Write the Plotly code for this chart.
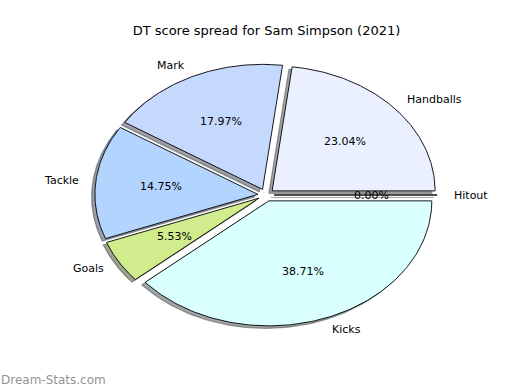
import numpy as np
import plotly.graph_objects as go

# ---- data ----
labels = ["Hitout", "Handballs", "Mark", "Tackle", "Goals", "Kicks"]
values = [0.00, 23.04, 17.97, 14.75, 5.53, 38.71]
colors = ["#ffffff", "#eaf0ff", "#c5d9ff", "#b3d4ff", "#d0ec8c", "#d9ffff"]
explode = [0.05, 0.05, 0.05, 0.05, 0.05, 0.05]
title_text = "DT score spread for Sam Simpson (2021)"
watermark = "Dream-Stats.com"

# ---- geometry (matplotlib-like pie: counterclockwise from 3 o'clock) ----
FONT = "DejaVu Sans"
labeldistance = 1.1
pctdistance = 0.6
shadow_off = (-0.02, -0.02)

def rgb(h):
    h = h.lstrip("#")
    return [int(h[i:i + 2], 16) for i in (0, 2, 4)]

total = float(sum(values))
fracs = np.array(values) / total
starts = np.concatenate([[0.0], np.cumsum(fracs)[:-1]]) * 360.0
ends = np.cumsum(fracs) * 360.0

fig = go.Figure()
annotations = []

wedges = []
for lab, f, t1, t2, col, ex in zip(labels, fracs, starts, ends, colors, explode):
    tm = np.deg2rad((t1 + t2) / 2.0)
    cx, cy = ex * np.cos(tm), ex * np.sin(tm)
    th = np.deg2rad(np.linspace(t1, t2, 120))
    xs = np.concatenate([[cx], cx + np.cos(th), [cx]])
    ys = np.concatenate([[cy], cy + np.sin(th), [cy]])
    wedges.append((lab, f, tm, cx, cy, xs, ys, col))

# shadows first (below all wedges)
for lab, f, tm, cx, cy, xs, ys, col in wedges:
    r, g, b = rgb(col)
    sc = "rgba(%d,%d,%d,0.5)" % (0.3 * r, 0.3 * g, 0.3 * b)
    fig.add_trace(go.Scatter(
        x=xs + shadow_off[0], y=ys + shadow_off[1], mode="lines",
        fill="toself", fillcolor=sc, line=dict(color=sc, width=1.2),
        hoverinfo="skip", showlegend=False))

for lab, f, tm, cx, cy, xs, ys, col in wedges:
    fig.add_trace(go.Scatter(
        x=xs, y=ys, mode="lines", fill="toself", fillcolor=col,
        line=dict(color="#000000", width=0.9), name=lab,
        hoverinfo="skip", showlegend=False))
    # outer label
    xt = cx + labeldistance * np.cos(tm)
    yt = cy + labeldistance * np.sin(tm)
    annotations.append(dict(
        x=xt, y=yt, xref="x", yref="y", text=lab, showarrow=False,
        xanchor="left" if xt > 0 else "right", yanchor="middle",
        font=dict(family=FONT, size=11, color="#000000"), borderpad=0))
    # percentage label
    xp = cx + pctdistance * np.cos(tm)
    yp = cy + pctdistance * np.sin(tm)
    annotations.append(dict(
        x=xp, y=yp, xref="x", yref="y", text="%.2f%%" % (f * 100),
        showarrow=False, xanchor="center", yanchor="middle",
        font=dict(family=FONT, size=11, color="#000000"), borderpad=0))

annotations.append(dict(
    x=0.0, y=(390 - 380) / 390.0, xref="paper", yref="paper", text=watermark,
    showarrow=False, xanchor="left", yanchor="middle",
    font=dict(family=FONT, size=12, color="rgba(125,125,125,0.85)"), borderpad=0))

W, H = 520, 390
CXP, CYP, RXP, RYP = 266.0, 195.0, 163.0, 125.0

fig.update_layout(
    width=W, height=H,
    margin=dict(l=0, r=0, t=0, b=0),
    paper_bgcolor="white", plot_bgcolor="white",
    title=dict(text=title_text, x=266.5 / W, y=1 - 30.0 / H,
               xanchor="center", yanchor="middle", xref="paper", yref="paper",
               font=dict(family=FONT, size=13, color="#000000")),
    xaxis=dict(range=[(0 - CXP) / RXP, (W - CXP) / RXP], visible=False,
               showgrid=False, zeroline=False, fixedrange=True),
    yaxis=dict(range=[(CYP - H) / RYP, CYP / RYP], visible=False,
               showgrid=False, zeroline=False, fixedrange=True),
    annotations=annotations,
    showlegend=False,
)

fig.write_html(
    "out.html",
    config={"displayModeBar": False},
    post_script="document.body.style.margin='0';document.body.style.overflow='hidden';",
)
